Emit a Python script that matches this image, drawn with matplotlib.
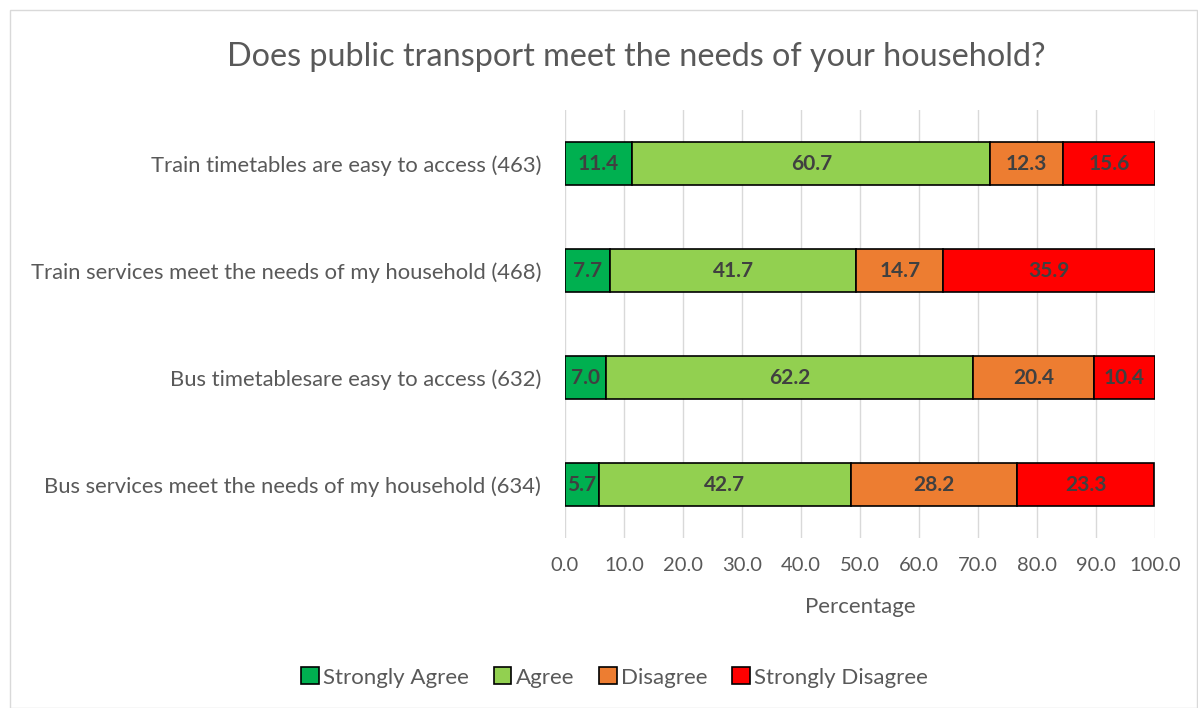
import matplotlib.pyplot as plt
from matplotlib.patches import Rectangle

# Survey results, bottom row first
categories = [
    'Bus services meet the needs of my household (634)',
    'Bus timetablesare easy to access (632)',
    'Train services meet the needs of my household (468)',
    'Train timetables are easy to access (463)',
]
strongly_agree = [5.7, 7.0, 7.7, 11.4]
agree = [42.7, 62.2, 41.7, 60.7]
disagree = [28.2, 20.4, 14.7, 12.3]
strongly_disagree = [23.3, 10.4, 35.9, 15.6]

series = ['Strongly Agree', 'Agree', 'Disagree', 'Strongly Disagree']
colors = ['#00b050', '#92d050', '#ed7d31', '#ff0000']
values = [strongly_agree, agree, disagree, strongly_disagree]

plt.rcParams['font.family'] = ['Lato', 'DejaVu Sans']
text_color = '#595959'

fig = plt.figure(figsize=(11.98, 7.08), dpi=100)
ax = fig.add_axes([0.4716, 0.2401, 0.4925, 0.6045])

# chart frame
fig.patches.append(Rectangle((10 / 1198, 0), 1 - 11 / 1198, 1 - 10 / 708,
                             transform=fig.transFigure, fill=False,
                             edgecolor='#d9d9d9', linewidth=1))

y = range(len(categories))
left = [0.0] * len(categories)
for name, col, vals in zip(series, colors, values):
    bars = ax.barh(y, vals, left=left, height=0.4, color=col,
                   edgecolor='black', linewidth=1.2, label=name, zorder=3)
    ax.bar_label(bars, labels=[f'{v:.1f}' for v in vals], label_type='center',
                 fontsize=15, fontweight='bold', color='#404040')
    left = [a + b for a, b in zip(left, vals)]

ax.set_xlim(0, 100)
ax.set_ylim(-0.5, 3.5)
ax.set_xticks(range(0, 101, 10))
ax.set_xticklabels([f'{t:.1f}' for t in range(0, 101, 10)])
ax.set_yticks(list(y))
ax.set_yticklabels(categories)
ax.tick_params(length=0, labelcolor=text_color)
ax.tick_params(axis='x', pad=14, labelsize=14.5)
ax.tick_params(axis='y', pad=17, labelsize=15.8)
ax.grid(axis='x', color='#d9d9d9', linewidth=1, zorder=0)
for s in ax.spines.values():
    s.set_visible(False)

ax.set_xlabel('Percentage', fontsize=16, color=text_color, labelpad=16)
fig.text(0.531, 0.919, 'Does public transport meet the needs of your household?',
         ha='center', va='center', fontsize=23.3, color=text_color)

fig.legend(loc='center', bbox_to_anchor=(0.513, 0.043), ncol=4, frameon=False,
           fontsize=16, labelcolor=text_color, handlelength=0.8, handleheight=0.8,
           handletextpad=0.2, columnspacing=1.1)

fig.savefig('out.png', dpi=100)
